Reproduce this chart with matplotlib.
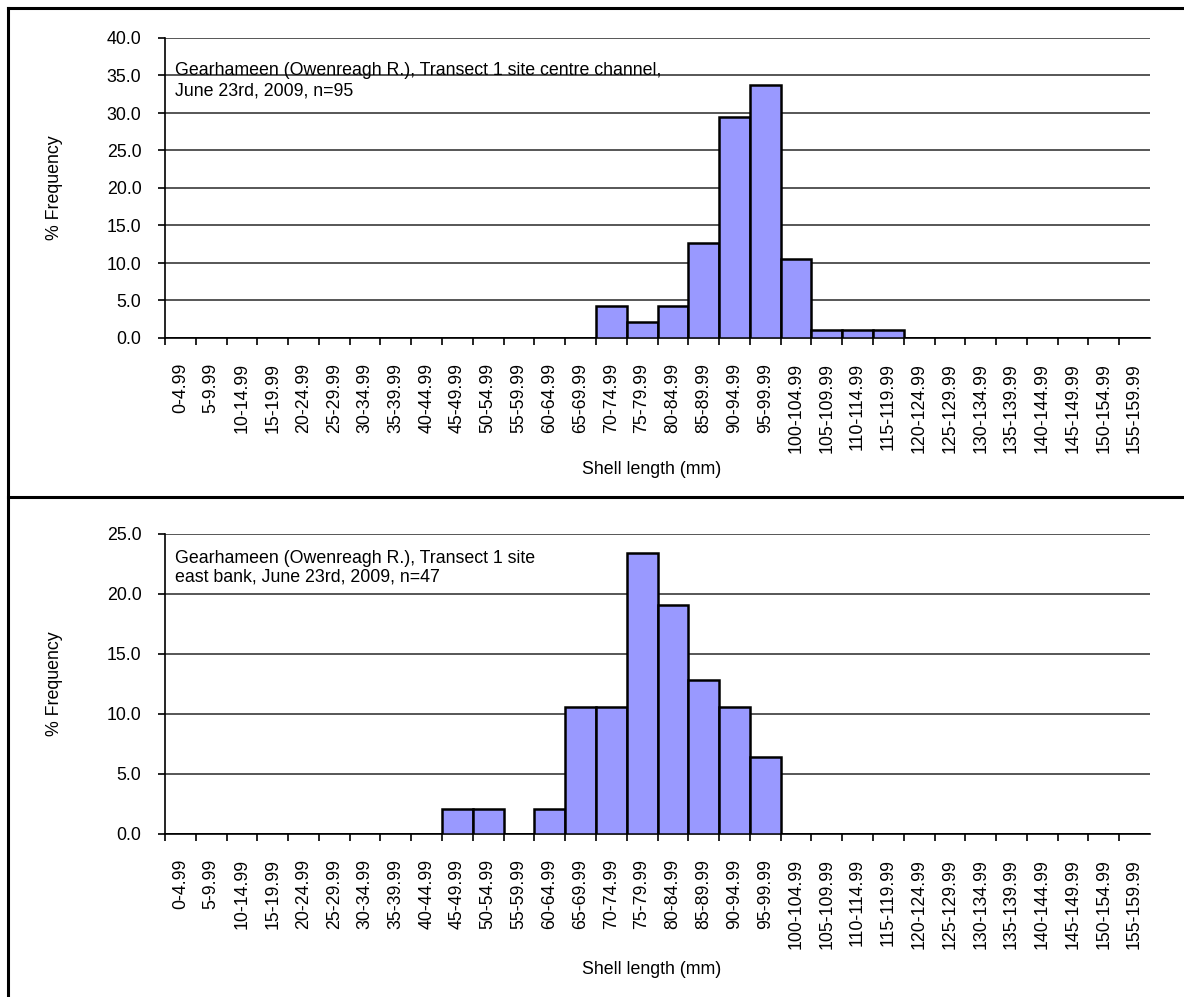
import numpy as np
import matplotlib
matplotlib.use("Agg")
import matplotlib.pyplot as plt
from matplotlib.lines import Line2D

plt.rcParams['font.family'] = ['Liberation Sans', 'DejaVu Sans']

# size classes (mm)
classes = ["%d-%d.99" % (lo, lo + 4) for lo in range(0, 160, 5)]

# % frequency, centre channel (n=95)
centre_pct = [0, 0, 0, 0, 0, 0, 0, 0, 0, 0, 0, 0, 0, 0,
              4.2, 2.1, 4.2, 12.6, 29.5, 33.7, 10.5, 1.1, 1.1, 1.1,
              0, 0, 0, 0, 0, 0, 0, 0]
# % frequency, east bank (n=47)
east_pct = [0, 0, 0, 0, 0, 0, 0, 0, 0,
            2.1, 2.1, 0, 2.1, 10.6, 10.6, 23.4, 19.1, 12.8, 10.6, 6.4,
            0, 0, 0, 0, 0, 0, 0, 0, 0, 0, 0, 0]

centre_note = ["Gearhameen (Owenreagh R.), Transect 1 site centre channel,",
               "June 23rd, 2009, n=95"]
east_note = ["Gearhameen (Owenreagh R.), Transect 1 site",
             "east bank, June 23rd, 2009, n=47"]

W, H = 1184, 997
fig = plt.figure(figsize=(W / 100, H / 100), dpi=100)
FS = 12.8


def panel(top_px, values, ymax, note, note_y, xlab_y):
    ax = fig.add_axes([165 / W, 1 - (top_px + 300) / H, 985 / W, 300 / H])
    x = np.arange(len(classes))
    ax.bar(x, values, width=1.0, color='#9999FF', edgecolor='black',
           linewidth=1.8, zorder=3)
    ax.set_xlim(-0.5, len(classes) - 0.5)
    ax.set_ylim(0, ymax)
    ax.set_yticks(np.arange(0, ymax + 0.1, 5))
    ax.set_yticklabels(["%.1f" % v for v in np.arange(0, ymax + 0.1, 5)],
                       fontsize=FS)
    ax.yaxis.grid(True, color='#3a3a3a', linewidth=1.2, zorder=0)
    ax.set_axisbelow(True)
    for s in ['top', 'right']:
        ax.spines[s].set_visible(False)
    for s in ['left', 'bottom']:
        ax.spines[s].set_linewidth(1.2)
    ax.tick_params(axis='y', direction='out', length=5, width=1.2, pad=12)
    # ticks on class boundaries, labels at class centres
    ax.set_xticks(x - 0.5)
    ax.set_xticklabels([])
    ax.tick_params(axis='x', which='major', direction='out', length=5,
                   width=1.2)
    ax.set_xticks(x, minor=True)
    ax.set_xticklabels(classes, minor=True, rotation=90, fontsize=FS)
    ax.tick_params(axis='x', which='minor', length=0, pad=18)
    ax.text(0.0102, note_y[0], note[0], transform=ax.transAxes,
            fontsize=FS, va='baseline', ha='left')
    ax.text(0.0102, note_y[1], note[1], transform=ax.transAxes,
            fontsize=FS, va='baseline', ha='left')
    ax.text(-0.1117, 0.5, "% Frequency", transform=ax.transAxes,
            rotation=90, fontsize=FS, ha='center', va='center')
    ax.text(0.494, xlab_y, "Shell length (mm)", transform=ax.transAxes,
            fontsize=FS, ha='center', va='center')
    return ax


panel(38, centre_pct, 40, centre_note, (0.877, 0.81), -0.44)
panel(534, east_pct, 25, east_note, (0.903, 0.84), -0.453)

# frame around the two charts
fig.add_artist(Line2D([8 / W, 1], [1 - 8 / H, 1 - 8 / H], color='black',
                      linewidth=2.2))
fig.add_artist(Line2D([8 / W, 8 / W], [0, 1 - 8 / H], color='black',
                      linewidth=2.2))
fig.add_artist(Line2D([8 / W, 1], [1 - 497 / H, 1 - 497 / H], color='black',
                      linewidth=2.2))

fig.savefig("out.png", dpi=100)
